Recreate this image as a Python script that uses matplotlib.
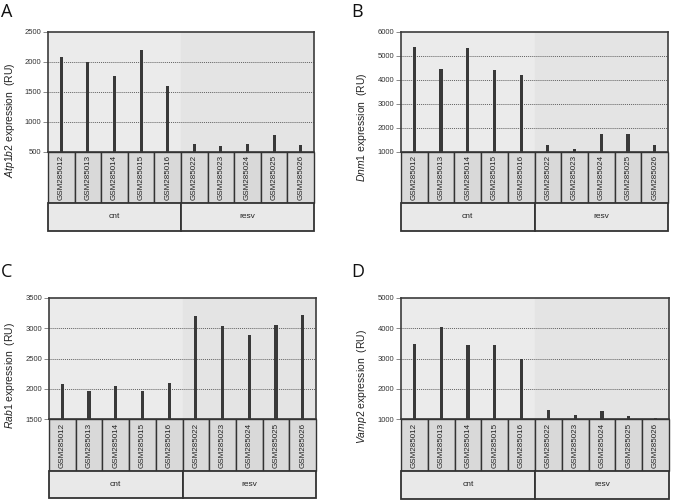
import matplotlib
matplotlib.use("Agg")
import matplotlib.pyplot as plt
from matplotlib.patches import Rectangle

plt.rcParams['font.family'] = ['Liberation Sans', 'DejaVu Sans']
plt.rcParams['mathtext.fontset'] = 'custom'
plt.rcParams['mathtext.it'] = 'Liberation Sans:italic'
plt.rcParams['mathtext.rm'] = 'Liberation Sans'

samples = ["GSM285012", "GSM285013", "GSM285014", "GSM285015", "GSM285016",
           "GSM285022", "GSM285023", "GSM285024", "GSM285025", "GSM285026"]
groups = ["cnt", "resv"]
group_sizes = [5, 5]

atp1b2 = [2090, 2000, 1765, 2205, 1600, 628, 595, 628, 785, 615]
dnm1 = [5390, 4465, 5325, 4430, 4225, 1285, 1110, 1770, 1730, 1310]
rab1 = [2075, 1955, 2040, 1955, 2100, 3200, 3040, 2895, 3060, 3220]
vamp2 = [3475, 4055, 3445, 3455, 2980, 1300, 1145, 1255, 1090, 1045]

panels = [
    dict(letter="A", gene="Atp1b2", vals=atp1b2, ylim=(500, 2500), step=500,
         box=(48, 314, 32, 152, 203, 231), lab=(10, 120), let=(1, 3)),
    dict(letter="B", gene="Dnm1", vals=dnm1, ylim=(1000, 6000), step=1000,
         box=(401, 668, 32, 152, 203, 231), lab=(362, 127), let=(351, 3)),
    dict(letter="C", gene="Rab1", vals=rab1, ylim=(1500, 3500), step=500,
         box=(49, 316, 298, 419, 471, 498), lab=(10, 376), let=(1, 263)),
    dict(letter="D", gene="Vamp2", vals=vamp2, ylim=(1000, 5000), step=1000,
         box=(401, 669, 298, 419, 471, 499), lab=(362, 387), let=(351, 263)),
]

W, H = 696, 501
fig = plt.figure(figsize=(W / 100, H / 100), dpi=100)
fig.patch.set_facecolor("white")

def fx(x):
    return x / W

def fy(y):
    return 1 - y / H

frame_col = "#3c3c3c"
for p in panels:
    l, r, t, b, sb, gb = p["box"]
    ax = fig.add_axes([fx(l), fy(b), fx(r) - fx(l), (b - t) / H])
    n = len(samples)
    ax.set_xlim(-0.5, n - 0.5)
    ax.set_ylim(*p["ylim"])
    ax.axvspan(-0.5, group_sizes[0] - 0.5, color="#ebebeb", zorder=0)
    ax.axvspan(group_sizes[0] - 0.5, n - 0.5, color="#e4e4e4", zorder=0)
    lo, hi = p["ylim"]
    ticks = list(range(lo, hi + 1, p["step"]))
    for yv in ticks[1:-1]:
        ax.axhline(yv, color="#606060", lw=0.7, ls=(0, (1.0, 1.0)), zorder=1)
    ax.bar(range(n), [v - lo for v in p["vals"]], bottom=lo, width=0.12,
           color="#393939", zorder=3)
    ax.set_yticks(ticks)
    ax.set_yticklabels([str(tk) for tk in ticks], fontsize=5.5, color="#333333")
    ax.tick_params(axis="y", length=3.5, width=0.6, color="#777777", pad=1.5)
    ax.set_xticks([])
    for s in ax.spines.values():
        s.set_color(frame_col)
        s.set_linewidth(1.2)

    # sample label row
    ax2 = fig.add_axes([fx(l), fy(gb), fx(r) - fx(l), (gb - b) / H])
    ax2.set_xlim(-0.5, n - 0.5)
    ax2.set_ylim(0, gb - b)
    ax2.axis("off")
    hs = sb - b
    for i, s in enumerate(samples):
        ax2.add_patch(Rectangle((i - 0.5, gb - b - hs), 1, hs, facecolor="#d9d9d9",
                                edgecolor="#333333", lw=1.0, clip_on=False))
        ax2.text(i, gb - b - hs / 2, s, rotation=90, ha="center", va="center",
                 fontsize=5.8, color="#222222")
    start = -0.5
    for g, sz in zip(groups, group_sizes):
        ax2.add_patch(Rectangle((start, 0), sz, gb - sb, facecolor="#e9e9e9",
                                edgecolor="#333333", lw=1.3, clip_on=False))
        ax2.text(start + sz / 2, (gb - sb) / 2, g, ha="center", va="center",
                 fontsize=6, color="#222222")
        start += sz

    fig.text(fx(p["lab"][0]), fy(p["lab"][1]),
             r"$\mathit{" + p["gene"] + r"}$ expression  (RU)",
             rotation=90, ha="center", va="center", fontsize=7.5, color="#222222")
    fig.text(fx(p["let"][0]), fy(p["let"][1]), p["letter"], ha="left", va="top",
             fontsize=13, family="Open Sans", color="#111111")

fig.savefig("out.png", dpi=100, facecolor="white")
